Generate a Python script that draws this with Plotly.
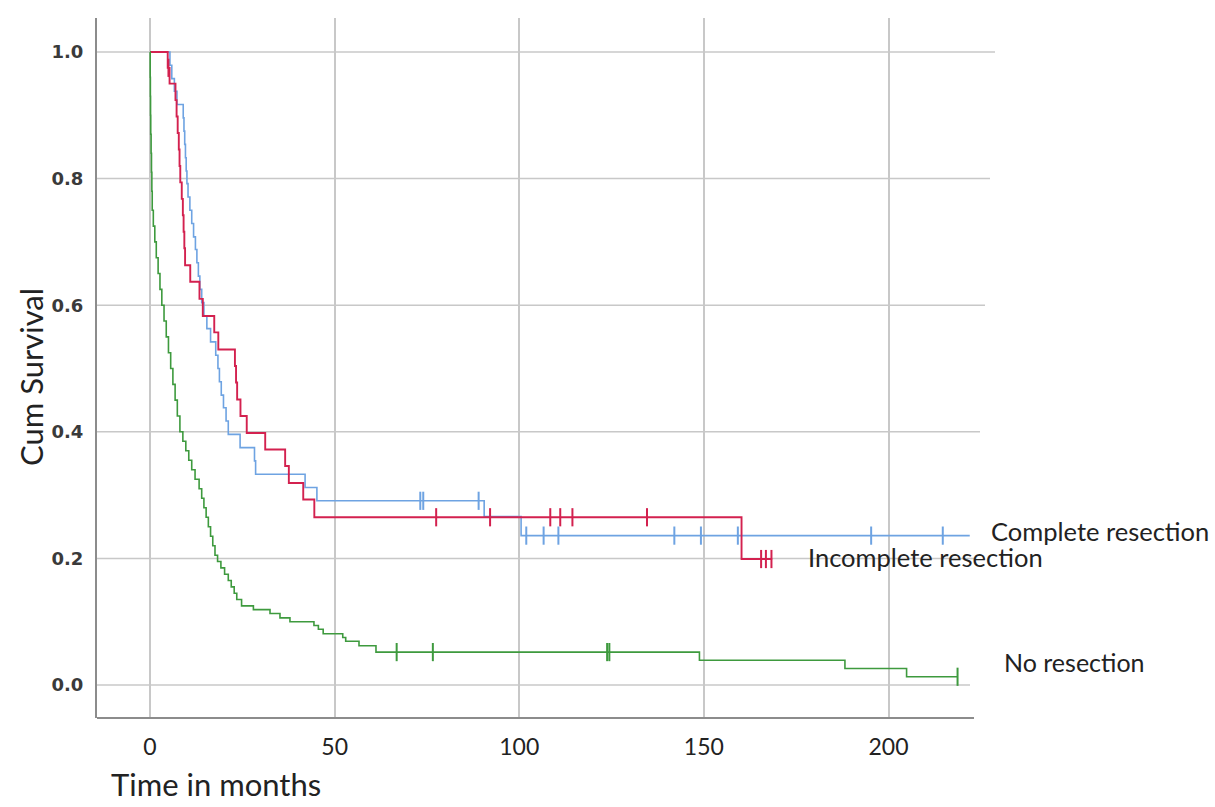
import plotly.graph_objects as go

# ---------------- data ----------------
# Complete resection (blue): step times (months) and survival after each step
complete_t = [0, 5.4, 5.9, 6.6, 7.3, 9.0, 9.2, 9.4, 9.6, 9.8, 10.0, 10.3, 10.8, 11.3,
              11.8, 12.3, 12.7, 13.1, 13.5, 14.0, 14.6, 15.4, 16.4, 17.8, 18.4, 18.8,
              19.3, 19.9, 20.6, 21.2, 24.4, 28.3, 28.6, 42.0, 45.2, 90.5, 100.5, 222.0]
complete_s = [1.0, 0.979, 0.958, 0.938, 0.917, 0.896, 0.875, 0.854, 0.833, 0.812, 0.792,
              0.771, 0.750, 0.729, 0.708, 0.688, 0.667, 0.646, 0.625, 0.604, 0.583, 0.563,
              0.542, 0.521, 0.500, 0.479, 0.458, 0.438, 0.417, 0.396, 0.375, 0.354, 0.333,
              0.312, 0.291, 0.266, 0.236, 0.236]
complete_censor = [73.2, 74.0, 89.0, 101.9, 106.6, 110.6, 142.0, 149.2, 159.2, 195.3, 214.7]

# Incomplete resection (red)
incomplete_t = [0, 4.8, 5.3, 6.9, 7.2, 7.5, 7.8, 8.0, 8.2, 8.6, 8.9, 9.1, 9.3, 9.5, 10.9,
                13.4, 14.3, 17.4, 18.5, 23.0, 23.3, 23.6, 24.5, 26.2, 31.2, 36.6, 37.6,
                41.5, 44.5, 160.2, 168.5]
incomplete_s = [1.0, 0.975, 0.950, 0.924, 0.898, 0.872, 0.846, 0.820, 0.794, 0.768, 0.742,
                0.716, 0.690, 0.663, 0.637, 0.610, 0.583, 0.557, 0.530, 0.504, 0.478,
                0.451, 0.425, 0.398, 0.372, 0.346, 0.319, 0.293, 0.265, 0.199, 0.199]
incomplete_censor = [5.0, 77.5, 92.1, 108.4, 111.1, 114.4, 134.6, 165.5, 166.8, 168.3]

# No resection (green)
none_t = [0, 0.05, 0.1, 0.15, 0.2, 0.3, 0.4, 0.5, 0.6, 0.9, 1.3, 1.7, 2.2, 2.7, 3.2, 3.8,
          4.4, 5.0, 5.6, 6.2, 6.8, 7.4, 8.1, 8.9, 9.7, 10.5, 11.3, 12.2, 13.3, 14.0, 14.6,
          15.2, 15.8, 16.4, 17.0, 17.6, 18.3, 19.2, 20.2, 21.2, 22.0, 22.8, 23.5, 24.8,
          28.0, 32.5, 35.2, 37.9, 44.4, 45.6, 46.9, 52.2, 53.0, 56.6, 61.2, 148.8, 188.2,
          204.9, 218.7]
none_s = [1.0, 0.96, 0.93, 0.90, 0.87, 0.84, 0.81, 0.78, 0.75, 0.725, 0.70, 0.675, 0.65,
          0.625, 0.60, 0.575, 0.55, 0.525, 0.50, 0.475, 0.45, 0.425, 0.40, 0.385, 0.37,
          0.355, 0.34, 0.325, 0.31, 0.295, 0.28, 0.265, 0.25, 0.235, 0.22, 0.205, 0.195,
          0.185, 0.175, 0.165, 0.155, 0.145, 0.135, 0.125, 0.119, 0.113, 0.106, 0.100,
          0.094, 0.088, 0.081, 0.075, 0.069, 0.062, 0.052, 0.039, 0.026, 0.013, 0.013]
none_censor = [66.8, 76.6, 123.8, 124.4, 218.7]

x_ticks = [0, 50, 100, 150, 200]
y_ticks = [0.0, 0.2, 0.4, 0.6, 0.8, 1.0]
y_ticktext = ["0.0", "0.2", "0.4", "0.6", "0.8", "1.0"]

BLUE = "#6ea3e2"
RED = "#d3214f"
GREEN = "#3e9a3e"


def level_at(ts, ss, t):
    val = ss[0]
    for ti, si in zip(ts, ss):
        if ti <= t:
            val = si
    return val


fig = go.Figure()
series = [
    (complete_t, complete_s, complete_censor, BLUE, 1.6),
    (incomplete_t, incomplete_s, incomplete_censor, RED, 1.9),
    (none_t, none_s, none_censor, GREEN, 1.6),
]
for ts, ss, cens, col, lw in series:
    fig.add_trace(go.Scatter(x=ts, y=ss, mode="lines", line=dict(color=col, width=lw, shape="hv"),
                             showlegend=False, hoverinfo="skip"))
    fig.add_trace(go.Scatter(x=cens, y=[level_at(ts, ss, c) for c in cens], mode="markers",
                             marker=dict(symbol="line-ns-open", size=13, color=col,
                                         line=dict(color=col, width=2)),
                             showlegend=False, hoverinfo="skip"))

# plot area in px: left 97, right 995, top 18, bottom 718
L, R, T, B = 97, 995, 18, 718
W = R - L
H = B - T

shapes = []
for v in y_ticks:
    end_px = 970 + 25 * v
    shapes.append(dict(type="line", xref="paper", yref="y", x0=0, x1=(end_px - L) / W,
                       y0=v, y1=v, line=dict(color="#c8c8c8", width=1.5), layer="below"))
# x axis line
shapes.append(dict(type="line", xref="paper", yref="paper", x0=0, x1=(974 - L) / W,
                   y0=0, y1=0, line=dict(color="#8c8c8c", width=2)))

annotations = [
    dict(text="Cum Survival", xref="paper", yref="paper", x=(31 - L) / W, y=(B - 377) / H,
         xanchor="center", yanchor="middle",
         textangle=-90, showarrow=False, font=dict(family="Lato", size=31, color="#222")),
    dict(text="Time in months", xref="paper", yref="paper", x=(109 - L) / W, y=(B - 805) / H,
         xanchor="left", yanchor="bottom", showarrow=False,
         font=dict(family="Lato", size=31, color="#222")),
    dict(text="Complete resection", xref="paper", yref="y", x=(989 - L) / W, y=0.243,
         xanchor="left", yanchor="middle", showarrow=False,
         font=dict(family="Lato", size=25.5, color="#222")),
    dict(text="Incomplete resection", xref="paper", yref="y", x=(806 - L) / W, y=0.203,
         xanchor="left", yanchor="middle", showarrow=False,
         font=dict(family="Lato", size=25.5, color="#222")),
    dict(text="No resection", xref="paper", yref="y", x=(1002 - L) / W, y=0.036,
         xanchor="left", yanchor="middle", showarrow=False,
         font=dict(family="Lato", size=25, color="#222")),
]

fig.update_layout(
    width=1215, height=807,
    margin=dict(l=L, r=1215 - R, t=T, b=807 - B, autoexpand=False),
    paper_bgcolor="white", plot_bgcolor="white",
    shapes=shapes, annotations=annotations,
    xaxis=dict(range=[(L - 150) / 3.6925, (R - 150) / 3.6925], tickvals=x_ticks,
               automargin=False,
               showgrid=True, gridcolor="#c8c8c8", gridwidth=1.5, zeroline=False,
               showline=False, ticks="outside", ticklen=8, tickcolor="rgba(0,0,0,0)",
               tickfont=dict(family="Lato", size=23, color="#222")),
    yaxis=dict(range=[(685 - B) / 633.0, (685 - T) / 633.0], tickvals=y_ticks,
               automargin=False,
               ticktext=y_ticktext, showgrid=False, zeroline=False, showline=True,
               linecolor="#8c8c8c", linewidth=2, ticks="outside", ticklen=8,
               tickcolor="rgba(0,0,0,0)",
               tickfont=dict(family="DejaVu Sans", size=18, color="#3a3a3a", weight="bold")),
)

fig.write_html("out.html", config={"displayModeBar": False},
               post_script="document.body.style.margin='0';document.body.style.overflow='hidden';")
